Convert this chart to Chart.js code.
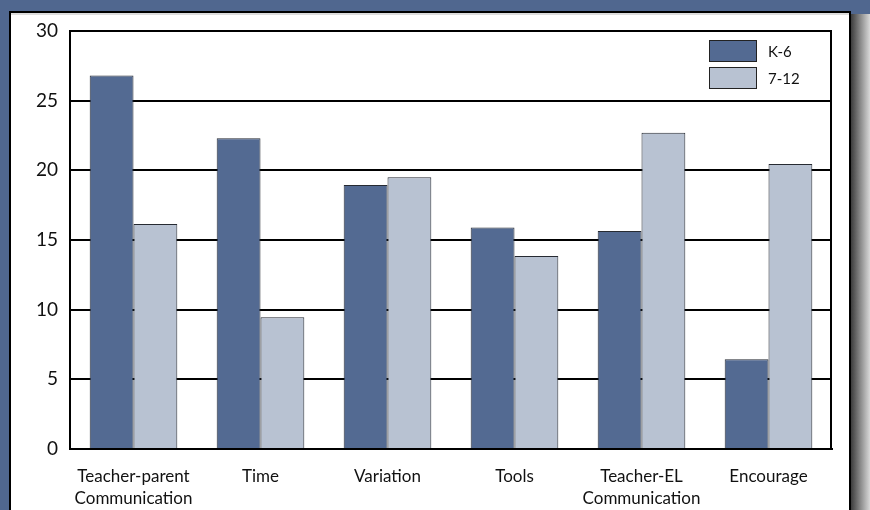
<!DOCTYPE html>
<html lang="en">
  <head>
    <meta charset="UTF-8" />
    <title>K-6 vs 7-12</title>
    <script src="https://cdn.jsdelivr.net/npm/chart.js"></script>
    <style>
      body {
        margin: 0;
        width: 870px;
        height: 510px;
        overflow: hidden;
        background: #50678f;
        position: relative;
        font-family: "Lato", sans-serif;
      }
      /* white card with black frame */
      .panel {
        position: absolute;
        left: 9px;
        top: 11px;
        width: 838px;
        height: 520px;
        background: #fff;
        border: 2px solid #000;
        box-shadow: inset 0 2px 0 #ddd;
      }
      /* fake drop shadow on the right */
      .shade {
        position: absolute;
        left: 851px;
        top: 14px;
        width: 19px;
        height: 500px;
        background: linear-gradient(90deg, #3c3c3c, #9a9a9a 60%, #d8d8d8);
      }
      #chart {
        position: absolute;
        left: 0;
        top: 0;
      }
    </style>
  </head>
  <body>
    <div class="panel"></div>
    <div class="shade"></div>
    <canvas id="chart" width="870" height="510"></canvas>

    <script>
      const categories = [
        ["Teacher-parent", "Communication"],
        "Time",
        "Variation",
        "Tools",
        ["Teacher-EL", "Communication"],
        "Encourage",
      ];
      const seriesNames = ["K-6", "7-12"];
      const k6 = [26.8, 22.3, 18.95, 15.9, 15.65, 6.45];
      const g712 = [16.15, 9.45, 19.5, 13.85, 22.7, 20.45];
      const colors = ["#536a92", "#b8c2d2"];

      // legend drawn inside the plot, top right
      const insideLegend = {
        id: "insideLegend",
        afterDatasetsDraw(chart) {
          const { ctx, chartArea } = chart;
          ctx.save();
          chart.data.datasets.forEach((ds, i) => {
            const x = chartArea.right - 123;
            const y = chartArea.top + 9 + i * 27;
            ctx.fillStyle = ds.backgroundColor;
            ctx.fillRect(x, y, 48, 22);
            ctx.strokeStyle = "#222";
            ctx.lineWidth = 1;
            ctx.strokeRect(x + 0.5, y + 0.5, 47, 21);
            ctx.fillStyle = "#111";
            ctx.font = "15px Lato";
            ctx.textBaseline = "middle";
            ctx.fillText(ds.label, x + 59, y + 12);
          });
          // right frame of the plot
          ctx.strokeStyle = "#000";
          ctx.lineWidth = 2;
          ctx.beginPath();
          ctx.moveTo(chartArea.right - 1, chartArea.top);
          ctx.lineTo(chartArea.right - 1, chartArea.bottom);
          ctx.stroke();
          ctx.restore();
        },
      };

      new Chart(document.getElementById("chart"), {
        type: "bar",
        data: {
          labels: categories,
          datasets: [
            {
              label: seriesNames[0],
              data: k6,
              backgroundColor: colors[0],
              borderColor: "#262a32",
              borderWidth: 1,
            },
            {
              label: seriesNames[1],
              data: g712,
              backgroundColor: colors[1],
              borderColor: "#262a32",
              borderWidth: 1,
            },
          ],
        },
        options: {
          responsive: false,
          animation: false,
          layout: { padding: { top: 31, right: 38, left: 0, bottom: 0 } },
          plugins: { legend: { display: false }, tooltip: { enabled: false } },
          datasets: { bar: { categoryPercentage: 0.69, barPercentage: 1 } },
          scales: {
            x: {
              grid: { display: false, drawTicks: false },
              border: { display: true, color: "#000", width: 2 },
              ticks: {
                color: "#111",
                font: { family: "Lato", size: 17, lineHeight: 1.3 },
                padding: 16,
                maxRotation: 0,
                autoSkip: false,
              },
              afterFit(s) {
                s.height = 61;
              },
            },
            y: {
              min: 0,
              max: 30,
              ticks: {
                stepSize: 5,
                color: "#111",
                font: { family: "Lato", size: 19 },
                padding: 12,
              },
              grid: { color: "#000", lineWidth: 2, drawTicks: false },
              border: { display: true, color: "#000", width: 2 },
              afterFit(s) {
                s.width = 70;
              },
            },
          },
        },
        plugins: [insideLegend],
      });
    </script>
  </body>
</html>
